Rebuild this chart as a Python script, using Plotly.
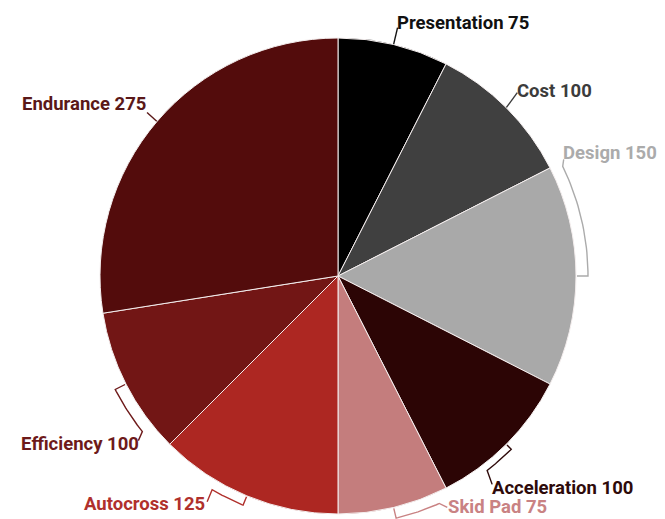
import math
import plotly.graph_objects as go

# Event points breakdown
categories = ["Presentation", "Cost", "Design", "Acceleration",
              "Skid Pad", "Autocross", "Efficiency", "Endurance"]
points = [75, 100, 150, 100, 75, 125, 100, 275]

slice_colors = ["#000000", "#404040", "#a9a9a9", "#2c0505",
                "#c47d7d", "#ad2722", "#721615", "#530c0c"]
label_colors = ["#111111", "#3c3c3c", "#ababab", "#2e0a0a",
                "#c98283", "#b0302c", "#6e1a1a", "#5a1818"]

# Canvas and pie geometry (pixels)
W, H = 665, 519
CX, CY, R = 338, 276, 238

# Callout styling: bracket sweep (deg from slice middle), bracket radius,
# leader vector from bracket end, label shift from leader end, anchor side
bracket_span = [0, 0, -26, 7.5, -10.5, 8, -11.5, 0]
bracket_r = [0, 0, 250, 245, 249, 248, 250, 0]
leader = [(4, -17), (11, -15), (1, -7), (5, 14), (8, 4), (-5, 12), (-4, 9), (-10, -9)]
label_shift = [(-2, -5), (-1, -2), (-2, -6), (-1, 4), (0, 0), (-1, 2), (2, 3), (0, -8)]
label_side = ["left", "left", "left", "left", "left", "right", "right", "right"]


def polar(theta_deg, r):
    t = math.radians(theta_deg)
    return CX + r * math.sin(t), CY - r * math.cos(t)


fig = go.Figure()

fig.add_trace(go.Pie(
    labels=categories,
    values=points,
    sort=False,
    direction="clockwise",
    rotation=0,
    marker=dict(colors=slice_colors, line=dict(color="#f4eeee", width=1)),
    textinfo="none",
    hoverinfo="label+value",
    showlegend=False,
    domain=dict(x=[(CX - R) / W, (CX + R) / W],
                y=[(H - CY - R) / H, (H - CY + R) / H]),
))

total = sum(points)
cum = 0
annotations = []
for i, (name, v) in enumerate(zip(categories, points)):
    mid = (cum + v / 2) / total * 360
    cum += v
    xs, ys = [], []
    if bracket_span[i] != 0:
        rb = bracket_r[i]
        x0, y0 = polar(mid, R + 1)
        xs.append(x0)
        ys.append(y0)
        n = 24
        for k in range(n + 1):
            px, py = polar(mid + bracket_span[i] * k / n, rb)
            xs.append(px)
            ys.append(py)
    else:
        px, py = polar(mid, R)
        xs.append(px)
        ys.append(py)
    ex, ey = xs[-1] + leader[i][0], ys[-1] + leader[i][1]
    xs.append(ex)
    ys.append(ey)
    fig.add_trace(go.Scatter(
        x=xs, y=ys, mode="lines",
        line=dict(color=label_colors[i], width=1.4),
        hoverinfo="skip", showlegend=False,
    ))
    annotations.append(dict(
        x=ex + label_shift[i][0], y=ey + label_shift[i][1],
        xref="x", yref="y",
        text=f"<b>{name} {v}</b>",
        showarrow=False,
        borderpad=0,
        xanchor=label_side[i], yanchor="middle",
        font=dict(family="Roboto", size=18.5, color=label_colors[i]),
    ))

fig.update_layout(
    width=W, height=H,
    margin=dict(l=0, r=0, t=0, b=0),
    paper_bgcolor="white",
    plot_bgcolor="rgba(0,0,0,0)",
    xaxis=dict(range=[0, W], visible=False, domain=[0, 1], fixedrange=True),
    yaxis=dict(range=[H, 0], visible=False, domain=[0, 1], fixedrange=True),
    annotations=annotations,
)

fig.write_html("out.html")
